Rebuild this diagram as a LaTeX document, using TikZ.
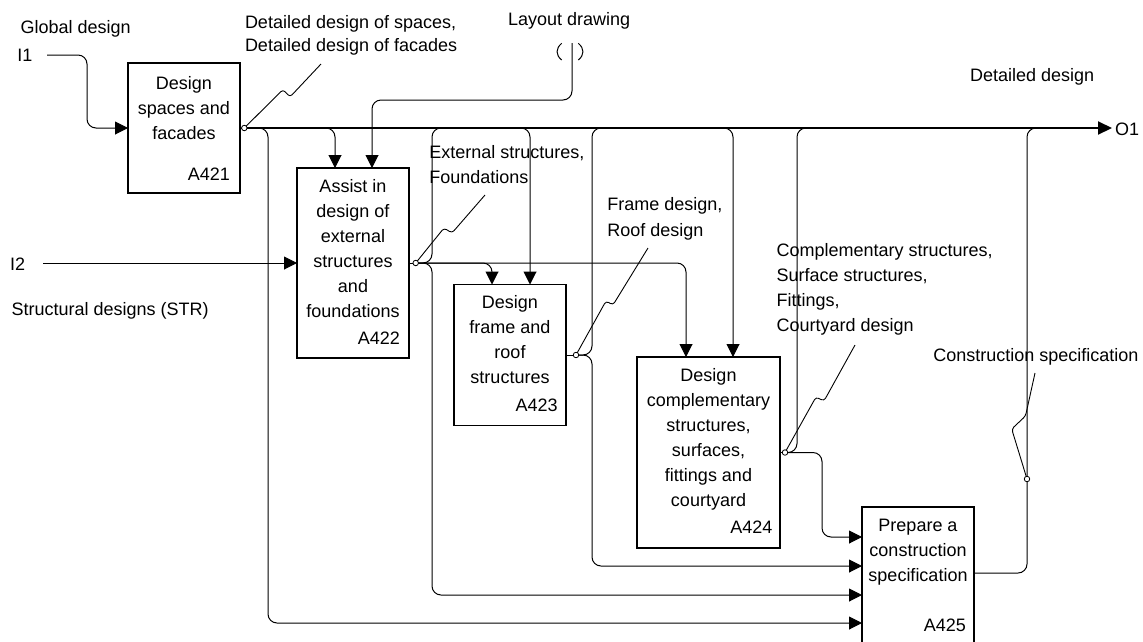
\documentclass[tikz,border=0pt]{standalone}
\usepackage{fontspec}
\setmainfont{Liberation Sans}
\usetikzlibrary{arrows.meta,calc}
\begin{document}
\begin{tikzpicture}[x=1pt,y=-1pt,
  every node/.style={font=\fontsize{18}{25}\selectfont, inner sep=0pt, outer sep=0pt},
  box/.style={draw, line width=1.8pt, minimum width=112pt},
  boxtext/.style={anchor=north, align=center},
  idlbl/.style={anchor=base east},
  lbl/.style={anchor=base west},
  lblblock/.style={anchor=north west, align=left},
  conn/.style={line width=1pt},
  mainline/.style={line width=2pt},
  rnd/.style={rounded corners=9pt},
  arrowed/.style={-{Triangle[length=13pt,width=13pt]}},
  callout/.style={line width=0.9pt, rounded corners=3pt},
  jct/.style={circle, draw, fill=white, line width=0.8pt, minimum size=5.5pt}
]
\useasboundingbox (0,0) rectangle (1143,641);
\clip (0,0) rectangle (1143,641);

% activity boxes
\node[box, minimum height=130pt] (A421) at (184,128) {};
\node[box, minimum height=190pt] (A422) at (353,263) {};
\node[box, minimum height=141pt] (A423) at (510,355) {};
\node[box, minimum width=143pt, minimum height=191pt] (A424) at (708.5,452.5) {};
\node[box, minimum height=160pt] (A425) at (918,587) {};

% box texts
\node[boxtext] (A421t) at ($(A421.north)+(0,13)$) {Design\\spaces and\\facades};
\node[boxtext] (A422t) at ($(A422.north)+(0,11.5)$) {Assist in\\design of\\external\\structures\\and\\foundations};
\node[boxtext] (A423t) at ($(A423.north)+(0,11)$) {Design\\frame and\\roof\\structures};
\node[boxtext] (A424t) at ($(A424.north)+(0,11.5)$) {Design\\complementary\\structures,\\surfaces,\\fittings and\\courtyard};
\node[boxtext] (A425t) at ($(A425.north)+(0,12)$) {Prepare a\\construction\\specification};

% box numbers
\node[idlbl] (A421n) at ($(A421.south east)+(-10,-12.7)$) {A421};
\node[idlbl] (A422n) at ($(A422.south east)+(-9,-13.5)$) {A422};
\node[idlbl] (A423n) at ($(A423.south east)+(-8.4,-14)$) {A423};
\node[idlbl] (A424n) at ($(A424.south east)+(-7.5,-15)$) {A424};
\node[idlbl] (A425n) at (966,631.7) {A425};

% boundary labels
\node[lbl] (Lglobal) at (20.7,33.3) {Global design};
\node[lbl] (LI1) at (17.3,61.7) {I1};
\node[lbl] (LI2) at (10,270) {I2};
\node[lbl] (Lstr) at (11.7,315) {Structural designs (STR)};
\node[lbl] (Llayout) at (508,25) {Layout drawing};
\node[lbl] (Ldet) at (970,81.7) {Detailed design};
\node[lbl] (LO1) at (1115,135) {O1};

% arrow labels
\node[lblblock] (Lspaces) at (245,15.4) {Detailed design of spaces,\\[-1.5pt]Detailed design of facades};
\node[lblblock] (Lext) at (429.3,145.4) {External structures,\\Foundations};
\node[lblblock] (Lframe) at (607.3,197.1) {Frame design,\\[1pt]Roof design};
\node[lblblock] (Lcompl) at (776.7,243.8) {Complementary structures,\\Surface structures,\\Fittings,\\Courtyard design};
\node[lbl] (Lspec) at (933.3,361.7) {Construction specification};

% junction points
\coordinate (j1) at (244.3,128);
\coordinate (j2) at (415.7,263);
\coordinate (j3) at (576,355);
\coordinate (j4) at (785,452.5);
\coordinate (j5) at (1027,479);
\coordinate (I1) at (47,55);
\coordinate (I2) at (43,263);
\coordinate (C1) at (572,43);
\coordinate (O1) at (1112,128);

% inputs
\draw[conn, rnd, arrowed] (I1) -- (87,55) -- (87,128) -- (A421.west);
\draw[conn, arrowed] (I2) -- (A422.west);

% control from the layout drawing, with tunnel brackets
\draw[conn, rnd, arrowed] (C1) -- (572,100) -- (372,100) -- (372,0 |- A422.north);
\draw[conn] (561.7,43.3) .. controls (555.5,48.5) and (555.5,55) .. (561.7,60);
\draw[conn] (578.3,43.3) .. controls (584.5,48.5) and (584.5,55) .. (578.3,60);

% outputs of A421
\draw[conn] (A421.east) -- (j1);
\draw[conn, rnd, arrowed] (j1) -- (268,128) -- (268,623) -- (A425.west |- 0,623);
\draw[conn, rnd, arrowed] (320,128) -- (335,128) -- (335,0 |- A422.north);
\draw[conn, rnd, arrowed] (515,128) -- (530,128) -- (530,0 |- A423.north);
\draw[conn, rnd, arrowed] (718,128) -- (733,128) -- (733,0 |- A424.north);

% outputs of A422
\draw[conn] (A422.east) -- (j2);
\draw[conn, rnd, arrowed] (j2) -- (492,263) -- (492,0 |- A423.north);
\draw[conn, rnd, arrowed] (j2) -- (686,263) -- (686,0 |- A424.north);
\draw[conn, rnd] (j2) -- (432,263) -- (432,128) -- (445,128);
\draw[conn, rnd, arrowed] (j2) -- (432,263) -- (432,595) -- (A425.west |- 0,595);

% outputs of A423
\draw[conn] (A423.east) -- (j3);
\draw[conn, rnd] (j3) -- (592,355) -- (592,128) -- (605,128);
\draw[conn, rnd, arrowed] (j3) -- (592,355) -- (592,566) -- (A425.west |- 0,566);

% outputs of A424
\draw[conn] (A424.east) -- (j4);
\draw[conn, rnd] (j4) -- (797,452.5) -- (797,128) -- (810,128);
\draw[conn, rnd, arrowed] (j4) -- (822,452.5) -- (822,537) -- (A425.west |- 0,537);

% output of A425
\draw[conn, rnd] (A425.east |- 0,573) -- (1027,573) -- (1027,128) -- (1040,128);

% main output line
\draw[mainline, -{Triangle[length=14pt,width=13pt]}] (j1) -- (O1);

% callout squiggles
\draw[callout] (j1) -- (283,89.5) -- (290,97) -- (321,64);
\draw[callout] (j2) -- (444,228) -- (452,233) -- (485,195);
\draw[callout] (j3) -- (606,301) -- (613,305) -- (648,248);
\draw[callout] (j4) -- (816,397) -- (824,401) -- (855,345);
\draw[callout] (j5) -- (1011.7,429) -- (1025.5,416) -- (1035,373);

% junction circles
\node[jct] (c1) at (j1) {};
\node[jct] (c2) at (j2) {};
\node[jct] (c3) at (j3) {};
\node[jct] (c4) at (j4) {};
\node[jct] (c5) at (j5) {};
\end{tikzpicture}
\end{document}
